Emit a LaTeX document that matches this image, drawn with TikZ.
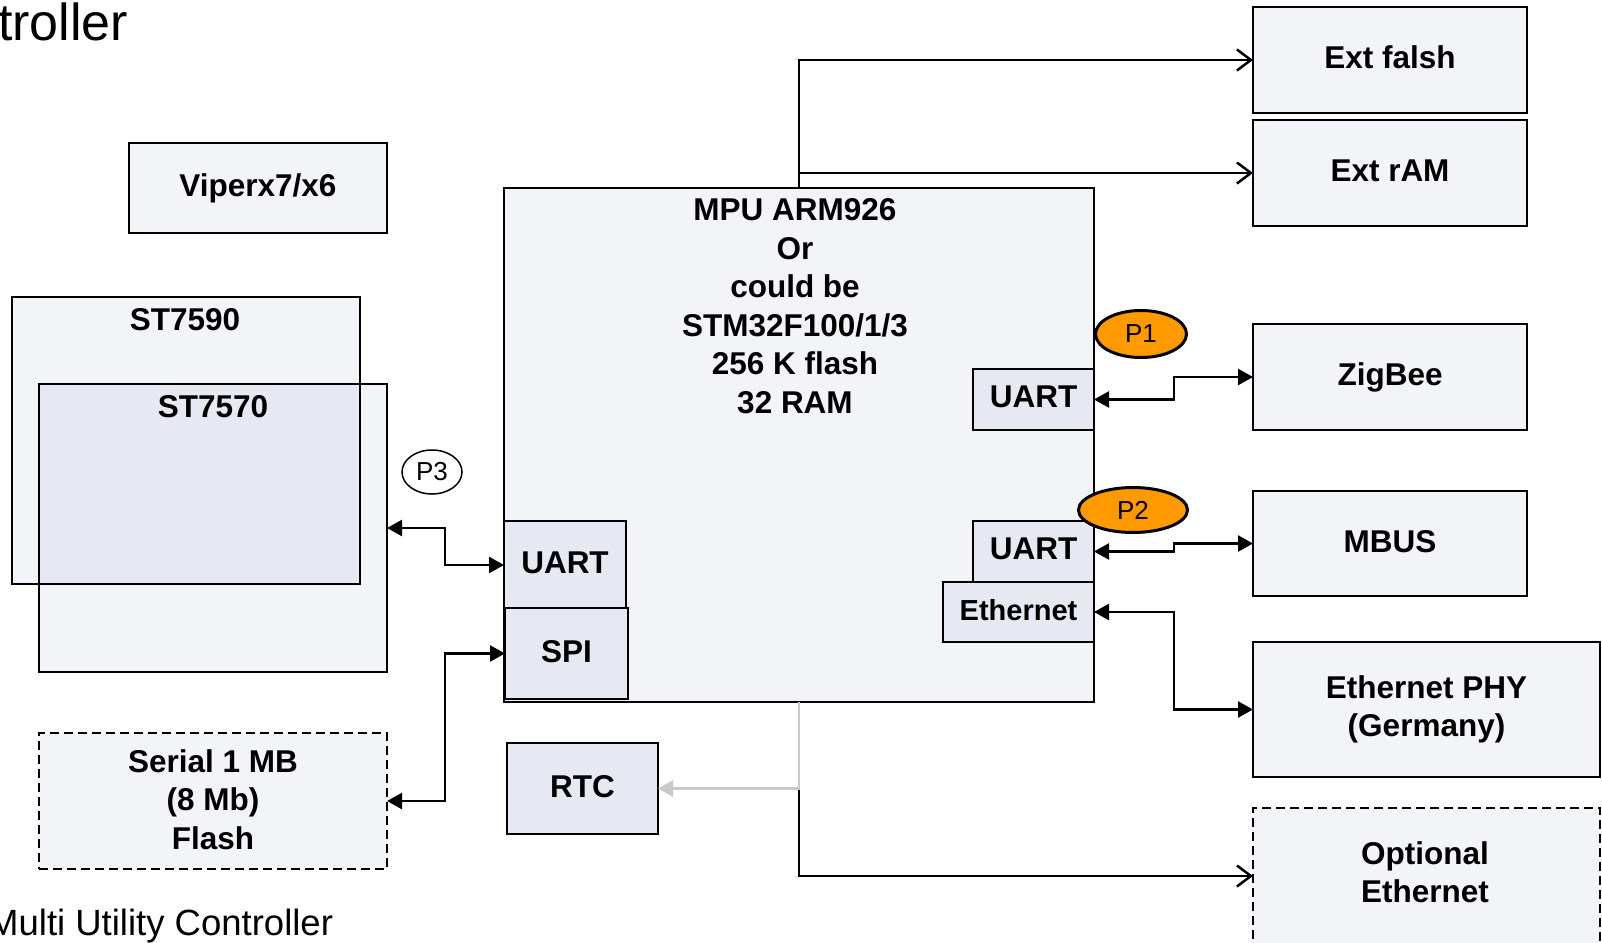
\documentclass[tikz,border=0pt]{standalone}
\usepackage{fontspec}
\setmainfont{Liberation Sans}
\usetikzlibrary{arrows.meta,shapes.geometric,calc}
\definecolor{boxfill}{HTML}{F2F4F8}
\definecolor{ifill}{HTML}{E6E9F2}
\definecolor{porange}{HTML}{FF9900}
\definecolor{lgray}{HTML}{C8C8C8}
\tikzset{
  lblfont/.style={font=\bfseries\fontsize{31.5}{38.5}\selectfont},
  box/.style={draw=black, line width=2pt, fill=boxfill, inner sep=0pt, outer sep=0pt, align=center, lblfont},
  ibox/.style={box, fill=ifill},
  dbox/.style={box, line width=1.6pt, dash pattern=on 9pt off 5pt},
  fillonly/.style={fill=boxfill, inner sep=0pt, outer sep=0pt},
  edge/.style={line width=2pt, draw=black},
  lbl/.style={lblfont, inner sep=0pt, align=center},
  raised/.style={text depth=5pt},
  dbl/.style={line width=2.5pt, {Triangle[length=15pt,width=16pt]}-{Triangle[length=15pt,width=16pt]}},
  opena/.style={line width=2.5pt, -{Straight Barb[length=14pt,width=21pt,line width=2.5pt]}},
  grayarr/.style={line width=2.5pt, draw=lgray, -{Triangle[length=15pt,width=16pt,fill=lgray]}},
  port/.style={ellipse, draw=black, line width=3pt, fill=porange, inner sep=0pt, font=\fontsize{26}{30}\selectfont},
  portw/.style={ellipse, draw=black, line width=1.5pt, fill=white, inner sep=0pt, font=\fontsize{26}{30}\selectfont},
}
\begin{document}
\begin{tikzpicture}[x=1pt,y=-1pt]
\useasboundingbox[fill=white] (0,0) rectangle (1602,942);

% titles (cut off slide text)
\node[anchor=base west, inner sep=0pt, font=\fontsize{52}{60}\selectfont] (title1) at (-2,41) {troller};
\node[anchor=base west, inner sep=0pt, font=\fontsize{36.5}{44}\selectfont] (title2) at (-12,935) {Multi Utility Controller};

% left column
\node[box, minimum width=258pt, minimum height=90pt] (viper) at (258,188) {Viperx7/x6};

\node[fillonly, minimum width=348pt, minimum height=287pt] (st7590) at (186,440.5) {};
\node[fillonly, minimum width=348pt, minimum height=288pt] (st7570) at (213,528) {};
\fill[ifill] (st7570.north west) rectangle (st7590.south east);
\draw[edge] (st7590.north west) rectangle (st7590.south east);
\draw[edge] (st7570.north west) rectangle (st7570.south east);
\node[lbl] (st7590lbl) at (185,320) {ST7590};
\node[lbl] (st7570lbl) at (213,407) {ST7570};

\node[dbox, minimum width=348pt, minimum height=136pt, text depth=3pt] (serial) at (213,801) {Serial 1 MB\\(8 Mb)\\Flash};

% MPU
\node[box, minimum width=590pt, minimum height=514pt] (mpu) at (799,445) {};
\node[lbl] (mpulbl) at (795,306) {MPU ARM926\\Or\\could be\\STM32F100/1/3\\256 K flash\\32 RAM};

\node[ibox, raised, minimum width=122pt, minimum height=88pt] (uartL) at (565,565) {UART};
\node[ibox, raised, minimum width=123pt, minimum height=91pt] (spi) at (566.5,653.5) {SPI};
\node[ibox, raised, minimum width=121pt, minimum height=61pt] (uart1) at (1033.5,399.5) {UART};
\node[ibox, raised, minimum width=121pt, minimum height=61pt] (uart2) at (1033.5,551.5) {UART};
\node[ibox, raised, minimum width=151pt, minimum height=60pt, font=\bfseries\fontsize{29}{36}\selectfont] (eth) at (1018.5,612) {Ethernet};
\node[ibox, raised, minimum width=151pt, minimum height=91pt] (rtc) at (582.5,788.5) {RTC};

% right column
\node[box, raised, minimum width=274pt, minimum height=106pt] (extflash) at (1390,60) {Ext falsh};
\node[box, raised, minimum width=274pt, minimum height=106pt] (extram) at (1390,173) {Ext rAM};
\node[box, minimum width=274pt, minimum height=106pt] (zigbee) at (1390,377) {ZigBee};
\node[box, raised, minimum width=274pt, minimum height=105pt] (mbus) at (1390,543.5) {MBUS};
\node[box, minimum width=347pt, minimum height=135pt] (ethphy) at (1426.5,709.5) {Ethernet PHY\\(Germany)};
\node[dbox, minimum width=347pt, minimum height=136pt] (opt) at (1426.5,876) {};
\node[lbl] (optlbl) at (1425,872) {Optional\\Ethernet};

% connectors
\draw[opena] (mpu.north) |- (extflash.west);
\draw[opena] (mpu.north) |- (extram.west);
\draw[dbl] (uart1.east) -- ++(80,0) |- (zigbee.west);
\draw[dbl] (uart2.east) -- ++(80,0) |- (mbus.west);
\draw[dbl] (eth.east) -- ++(80,0) |- (ethphy.west);
\draw[dbl] (uartL.west) -- ++(-59,0) |- (st7570.east);
\draw[dbl] (spi.west) -- ++(-60,0) |- (serial.east);
\coordinate (split) at (mpu.south |- rtc.east);
\draw[opena] (split) |- (opt.west);
\draw[grayarr] (mpu.south) -- (split) -- (rtc.east);

% port markers
\node[port, minimum width=91pt, minimum height=47pt] (p1) at (1141,334) {P1};
\node[port, minimum width=109pt, minimum height=45pt] (p2) at (1133,510) {P2};
\node[portw, minimum width=60pt, minimum height=44pt] (p3) at (432,472) {P3};
\end{tikzpicture}
\end{document}
